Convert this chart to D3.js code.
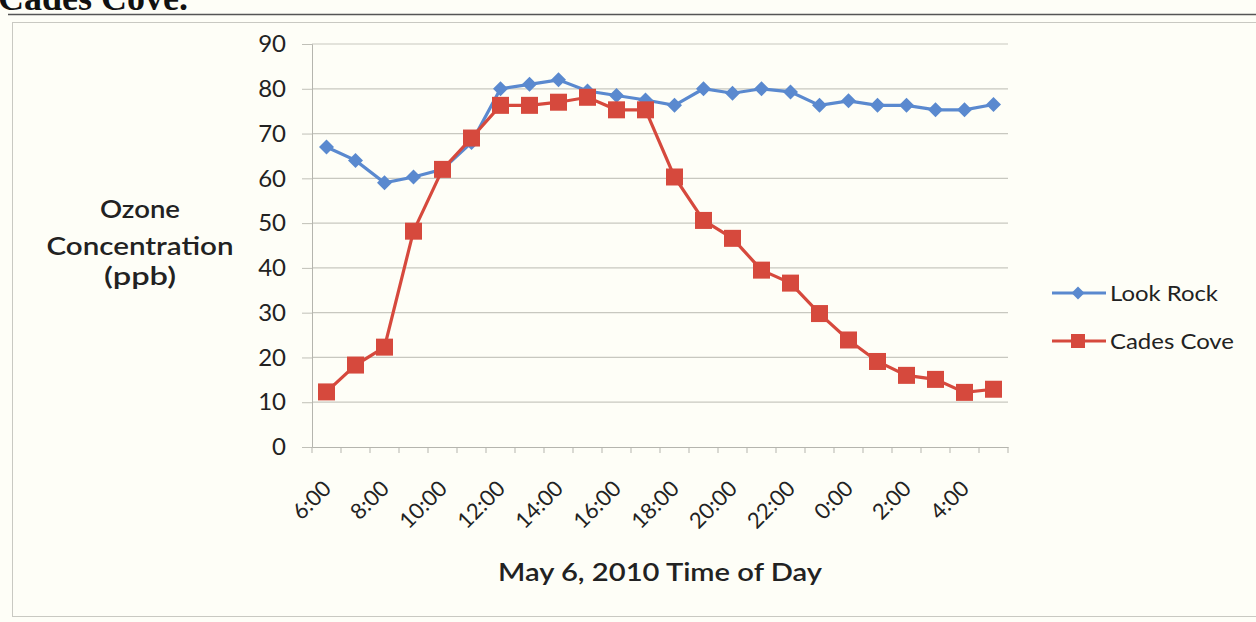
<!DOCTYPE html>
<html><head><meta charset="utf-8">
<script src="https://cdn.jsdelivr.net/npm/d3@7"></script>
<style>
html,body{margin:0;padding:0;background:#fefef7;}
svg{display:block;}
</style></head><body>
<svg id="c" width="1256" height="622"></svg>
<script>
const hours = ["6:00","7:00","8:00","9:00","10:00","11:00","12:00","13:00","14:00","15:00","16:00","17:00","18:00","19:00","20:00","21:00","22:00","23:00","0:00","1:00","2:00","3:00","4:00","5:00"];
const lookRock = [67,64,59,60.3,62,68,80,81,82,79.5,78.5,77.5,76.3,80,79,80,79.3,76.3,77.3,76.3,76.3,75.3,75.3,76.5];
const cadesCove = [12.3,18.3,22.3,48.2,62,69,76.3,76.3,77,78.1,75.3,75.3,60.3,50.6,46.6,39.5,36.6,29.8,23.9,19.1,16,15.1,12.2,12.9];
const yTicks = [0,10,20,30,40,50,60,70,80,90];
const seriesNames = ["Look Rock","Cades Cove"];
const yTitleLines = ["Ozone","Concentration","(ppb)"];
const colors = ["#5a89cf","#d6493d"];

const svg = d3.select("#c");
const font = "Lato, 'Open Sans', sans-serif";

// page title fragment (cut off at top, as in the scanned page)
svg.append("text").attr("x",-2).attr("y",10).attr("font-family","'Liberation Serif', serif")
  .attr("font-weight","bold").attr("font-size",36).attr("fill","#111").text("Cades Cove.");
svg.append("line").attr("x1",8).attr("x2",1256).attr("y1",14.5).attr("y2",14.5).attr("stroke","#555").attr("stroke-width",1.5);
// chart frame
svg.append("rect").attr("x",12.5).attr("y",22.5).attr("width",1260).attr("height",594).attr("fill","#fefef7").attr("stroke","#c9c9c2");

const pLeft=312, pRight=1008, pTop=44, pBottom=447;
const x = d3.scaleBand().domain(hours).range([pLeft,pRight]);
const y = d3.scaleLinear().domain([0,90]).range([pBottom,pTop]);

// gridlines
svg.append("g").selectAll("line").data(yTicks.filter(d=>d>0)).join("line")
  .attr("x1",pLeft).attr("x2",pRight).attr("y1",d=>y(d)).attr("y2",d=>y(d))
  .attr("stroke","#c8c8c0").attr("stroke-width",1.2);

// y axis
const ya = svg.append("g").attr("transform",`translate(${pLeft},0)`)
  .call(d3.axisLeft(y).tickValues(yTicks).tickSize(10).tickPadding(16));
ya.select(".domain").attr("stroke","#b5b5ae");
ya.selectAll(".tick line").attr("stroke","#c0c0b8");
ya.selectAll("text").attr("font-family",font).attr("font-size",24).attr("fill","#222");

// x axis
const xa = svg.append("g").attr("transform",`translate(0,${pBottom})`)
  .call(d3.axisBottom(x).tickSize(0).tickFormat(""));
xa.select(".domain").attr("stroke","#b5b5ae");
svg.append("g").selectAll("line").data(hours.concat(["end"])).join("line")
  .attr("x1",(d,i)=>pLeft+i*x.bandwidth()).attr("x2",(d,i)=>pLeft+i*x.bandwidth())
  .attr("y1",pBottom).attr("y2",pBottom+6).attr("stroke","#b5b5ae");
svg.append("g").selectAll("text").data(hours.filter((d,i)=>i%2===0)).join("text")
  .attr("transform",d=>`translate(${x(d)+x.bandwidth()/2+6},${pBottom+43}) rotate(-45)`)
  .attr("text-anchor","end")
  .attr("font-family",font).attr("font-size",22).attr("fill","#222").text(d=>d);

// axis titles
const yTitlePos = [[218,80],[255,187],[285,72]];
yTitleLines.forEach((t,i)=>{
  const [yy,w] = yTitlePos[i];
  svg.append("text").attr("x",140-w/2).attr("y",yy).attr("font-family",font).attr("font-weight","600")
    .attr("font-size",24).attr("fill","#222").attr("textLength",w).attr("lengthAdjust","spacingAndGlyphs").text(t);
});
svg.append("text").attr("x",498).attr("y",581).attr("font-family",font)
  .attr("font-weight","600").attr("font-size",24).attr("fill","#222")
  .attr("textLength",324).attr("lengthAdjust","spacingAndGlyphs").text("May 6, 2010 Time of Day");

const cx = d=>x(d)+x.bandwidth()/2;
const line = d3.line().x(d=>cx(d[0])).y(d=>y(d[1]));
const data = [lookRock, cadesCove];

function marker(g, k, px, py){
  if(k===0){
    const s=7.5;
    g.append("path").attr("d",`M${px},${py-s}L${px+s},${py}L${px},${py+s}L${px-s},${py}Z`).attr("fill",colors[0]);
  } else {
    const s=8.5;
    g.append("rect").attr("x",px-s).attr("y",py-s).attr("width",2*s).attr("height",2*s).attr("fill",colors[1]);
  }
}

data.forEach((vals,k)=>{
  const pts = hours.map((h,i)=>[h,vals[i]]);
  svg.append("path").datum(pts).attr("d",line).attr("fill","none").attr("stroke",colors[k]).attr("stroke-width",3.2);
  const g = svg.append("g");
  pts.forEach(p=>marker(g,k,cx(p[0]),y(p[1])));
});

// legend
seriesNames.forEach((n,k)=>{
  const ly = [293,341][k];
  svg.append("line").attr("x1",1052).attr("x2",1106).attr("y1",ly).attr("y2",ly).attr("stroke",colors[k]).attr("stroke-width",3.2);
  const g = svg.append("g");
  if(k===0){ g.append("path").attr("d",`M1078,${ly-6.5}L1084.5,${ly}L1078,${ly+6.5}L1071.5,${ly}Z`).attr("fill",colors[0]); }
  else { g.append("rect").attr("x",1071).attr("y",ly-7).attr("width",14).attr("height",14).attr("fill",colors[1]); }
  svg.append("text").attr("x",1110).attr("y",ly+7.5).attr("font-family",font)
    .attr("font-size",21).attr("fill","#222").attr("textLength",[108,124][k]).attr("lengthAdjust","spacingAndGlyphs").text(n);
});
</script></body></html>
